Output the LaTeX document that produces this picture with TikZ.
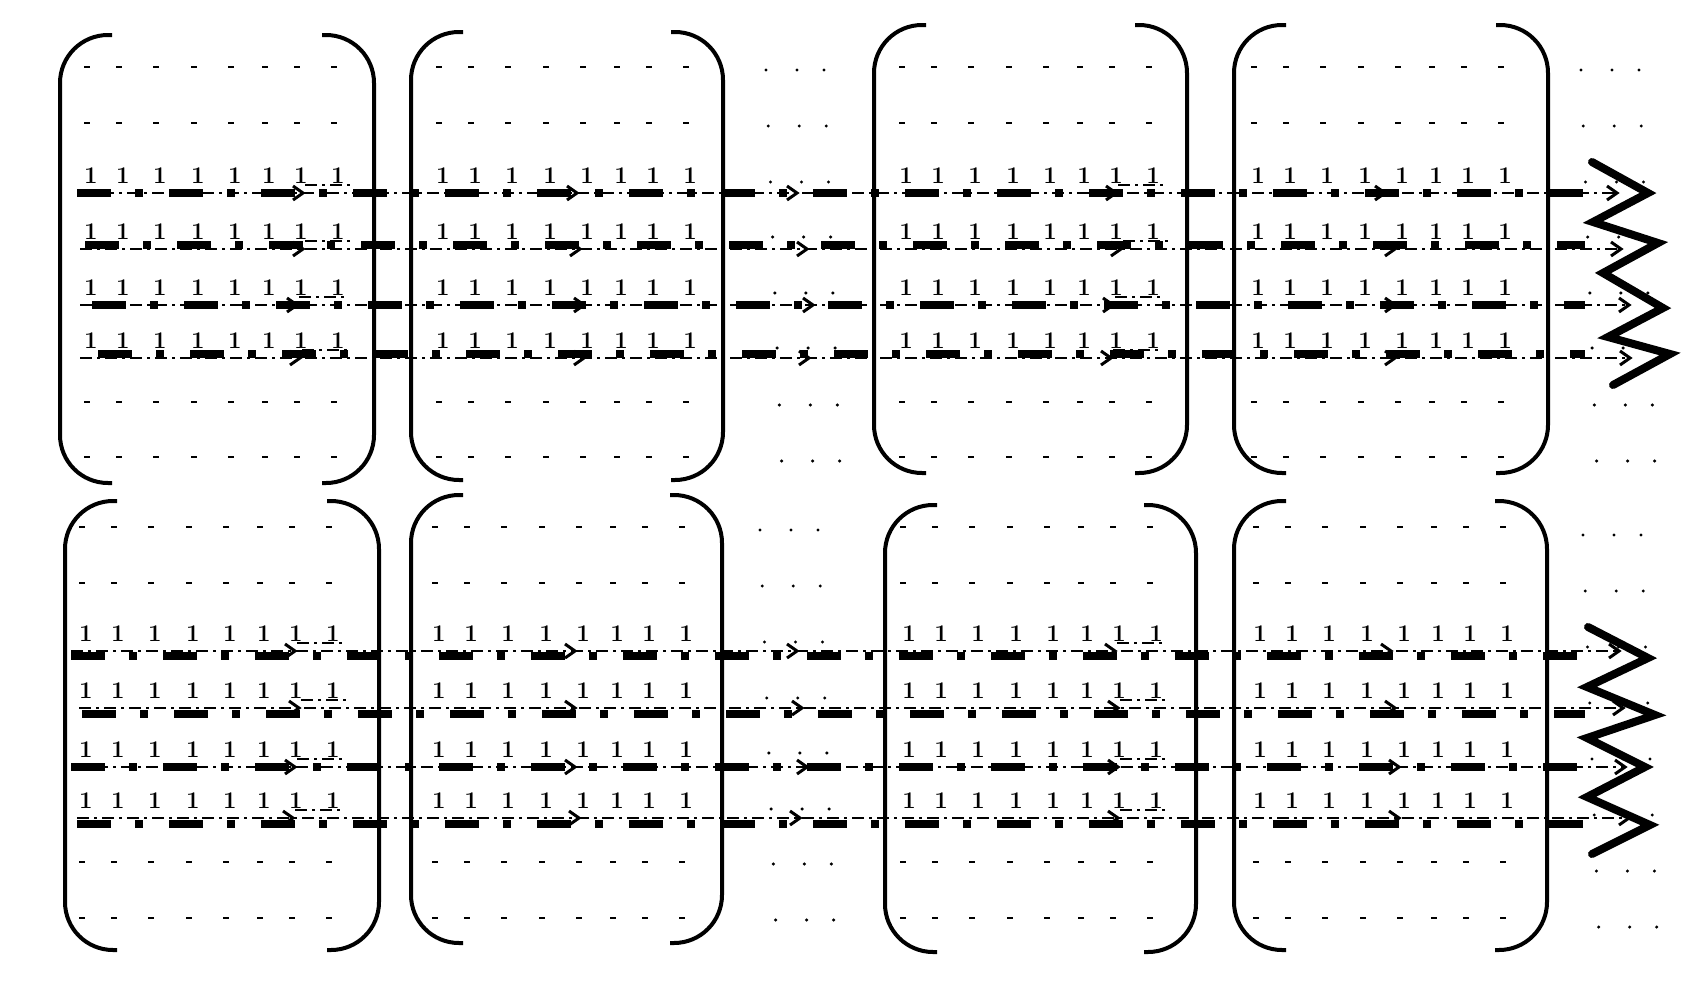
\documentclass[tikz,border=0pt]{standalone}
\usetikzlibrary{calc}

\newcommand{\onefont}{\fontsize{24}{28}\selectfont\bfseries}
\tikzset{
  paren/.style={line width=4pt,rounded corners=48pt},
  thickline/.style={line width=8pt,dash pattern=on 34pt off 24pt on 8pt off 26pt},
  thinline/.style={line width=2pt,dash pattern=on 12pt off 5pt on 3pt off 5pt},
  chevron/.style={line width=3pt},
  zigzag/.style={line width=8pt,line cap=round,line join=miter},
  onelabel/.style={anchor=base,inner sep=0pt},
}

% #1 name, #2 left x, #3 right x, #4 top y, #5 bottom y
\newcommand{\mparens}[5]{%
  \draw[paren] ({#2+52},#4) -| (#2,{(#4+#5)/2}) coordinate (#1-w) |- ({#2+52},#5);
  \draw[paren] ({#3-52},#4) -| (#3,{(#4+#5)/2}) coordinate (#1-e) |- ({#3-52},#5);
}
% small dots of a matrix: #1 first column x, #2 rows
\newcommand{\mdots}[2]{%
  \foreach \dx in {0,32,69,107,144,178,210,247}
    \foreach \yy in {#2}
      \fill ({#1+\dx-5},{\yy-1.2}) rectangle ++(6,2.5);
}
% ones of a matrix: #1 first column x, #2 line rows
\newcommand{\mones}[2]{%
  \foreach \dx in {0,32,69,107,144,178,210,247}
    \foreach \yy in {#2}
      \node[onelabel] at ({#1+\dx},{\yy-10}) {\onefont 1};
}
% cdots between matrices: #1 x at first row, #2 first row y, #3 rows
\newcommand{\cdotgrid}[3]{%
  \foreach \yy in {#3}
    \foreach \dx in {0,31,58}
      \fill ({#1+\dx+0.04*(\yy-#2)},\yy) circle (1.7pt);
}

\begin{document}
\begin{tikzpicture}[x=1pt,y=-1pt]
  \fill[white] (0,0) rectangle (1700,985);
  \useasboundingbox (0,0) rectangle (1700,985);

  % top row of matrices
  \mparens{ta}{60}{374}{35}{483}
  \mparens{tb}{411}{723}{32}{480}
  \mparens{tc}{874}{1187}{25}{473}
  \mparens{td}{1234}{1548}{25}{473}
  % bottom row of matrices
  \mparens{ba}{65}{379}{501}{950}
  \mparens{bb}{411}{722}{495}{943}
  \mparens{bc}{885}{1196}{505}{952}
  \mparens{bd}{1234}{1547}{501}{950}

  \foreach \cx in {89,441,904,1256} \mdots{\cx}{67,123,402,457};
  \foreach \cx in {84,437,905,1258} \mdots{\cx}{527,583,862,918};

  \foreach \cx in {91,443,906,1258} \mones{\cx}{193,249,305,358};
  \foreach \cx in {86,439,909,1260} \mones{\cx}{651,708,767,818};

  \cdotgrid{766}{70}{70,126,182,237,293,348,405,461}
  \cdotgrid{1581}{70}{70,126,182,237,293,348,405,461}
  \cdotgrid{760}{530}{530,586,642,698,753,809,864,920}
  \cdotgrid{1583}{535}{535,591,647,703,759,815,871,927}

  % the eight chains of arrows
  \foreach \r/\y/\dy/\xs/\xt/\tips in {
      1/193/0/77/77/{303,577,797,1116,1385,1617},
      2/249/-4/80/85/{303,580,807,1121,1395,1621},
      3/305/0/80/92/{297,584,813,1113,1395,1629},
      4/358/-4/80/98/{300,584,809,1111,1395,1630},
      5/651/5/71/71/{295,575,797,1115,1391,1619},
      6/708/6/79/82/{299,575,802,1118,1395,1623},
      7/767/0/71/71/{295,575,807,1118,1399,1625},
      8/818/6/77/77/{293,579,800,1118,1399,1629}} {
    \coordinate (r\r-s) at (\xs,\y);
    \foreach \t [count=\k] in \tips {
      \coordinate (r\r-a\k) at (\t,\y);
    }
    \draw[thickline] (\xt,\y+\dy) -- (1585,\y+\dy);
    \draw[thinline] (r\r-s) -- (r\r-a6);
    \draw[thinline] ($(r\r-a1)+(2,-8)$) -- ++(46,0);
    \draw[thinline] ($(r\r-a4)+(2,-8)$) -- ++(46,0);
    \foreach \k in {1,...,6}
      \draw[chevron] ($(r\r-a\k)+(-10,-7)$) -- (r\r-a\k) -- ($(r\r-a\k)+(-10,7)$);
  }

  % zigzags at the right end
  \draw[zigzag] (1592,162) -- (1648,193) -- (1593,222) -- (1658,243) -- (1603,273)
    -- (1663,308) -- (1608,337) -- (1670,354) -- (1613,385);
  \draw[zigzag] (1588,627) -- (1648,658) -- (1587,687) -- (1655,715) -- (1587,738)
    -- (1645,767) -- (1587,797) -- (1650,825) -- (1592,854);
\end{tikzpicture}
\end{document}
